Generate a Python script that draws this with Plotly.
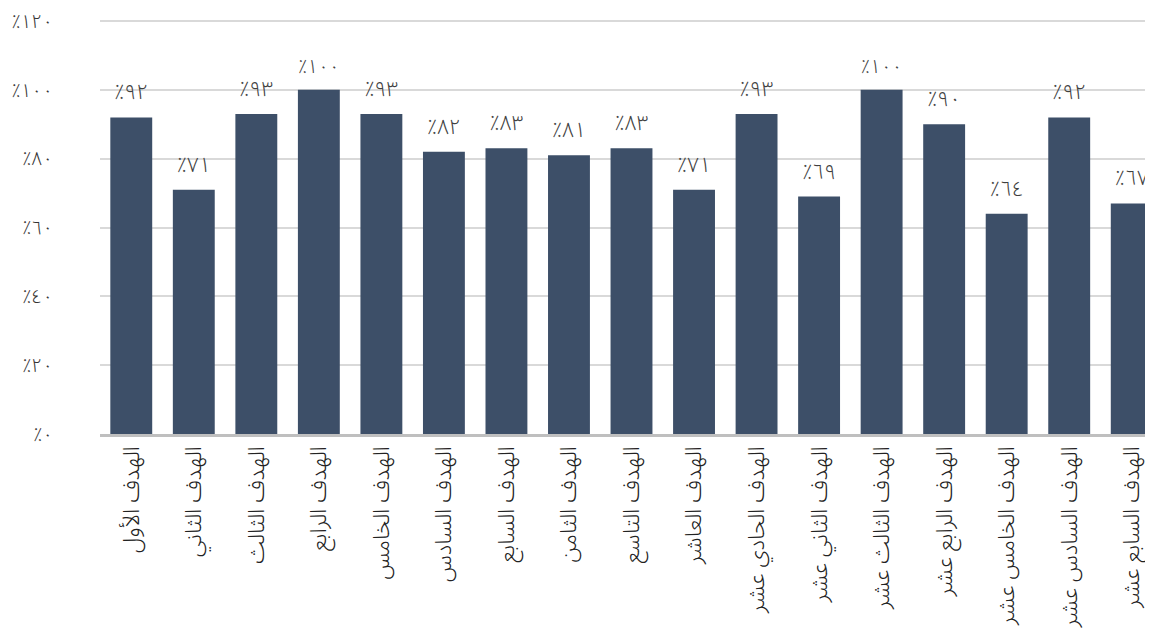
import plotly.graph_objects as go

# Goals and achievement percentages
goals = [
    "الهدف الأول", "الهدف الثاني", "الهدف الثالث", "الهدف الرابع",
    "الهدف الخامس", "الهدف السادس", "الهدف السابع", "الهدف الثامن",
    "الهدف التاسع", "الهدف العاشر", "الهدف الحادي عشر", "الهدف الثاني عشر",
    "الهدف الثالث عشر", "الهدف الرابع عشر", "الهدف الخامس عشر",
    "الهدف السادس عشر", "الهدف السابع عشر",
]
values = [92, 71, 93, 100, 93, 82, 83, 81, 83, 71, 93, 69, 100, 90, 64, 92, 67]
y_ticks = [0, 20, 40, 60, 80, 100, 120]

AR_DIGITS = str.maketrans("0123456789", "٠١٢٣٤٥٦٧٨٩")


def ar_pct(v):
    return "٪" + str(v).translate(AR_DIGITS)


BAR = "#3d4f68"
FONT = "Noto Sans Arabic, Noto Sans Arabic UI, DejaVu Sans, sans-serif"

fig = go.Figure()
fig.add_bar(
    x=goals, y=values,
    marker=dict(color=BAR, line=dict(width=0)),
    text=[ar_pct(v) for v in values],
    textposition="outside",
    textfont=dict(size=21, color="#404040", family=FONT, weight=300),
    cliponaxis=False,
)

# page body has an 8px margin, so the figure is shrunk to fit the window
fig.update_layout(
    width=1145, height=628,
    margin=dict(l=92, r=0, t=12, b=202, autoexpand=False),
    paper_bgcolor="white", plot_bgcolor="white",
    bargap=0.33,
    showlegend=False,
    font=dict(family=FONT, color="#333333"),
    xaxis=dict(
        range=[-0.5, 16.34],
        automargin=False,
        tickangle=-90,
        tickfont=dict(size=23, color="#222222", weight=300),
        showline=True, linecolor="#bfbfbf", linewidth=3,
        ticks="", showgrid=False,
    ),
    yaxis=dict(
        range=[0, 120.3],
        automargin=False,
        tickvals=y_ticks,
        ticktext=[ar_pct(v) for v in y_ticks],
        tickfont=dict(size=19, color="#333333", weight=300),
        gridcolor="#d9d9d9", gridwidth=1.5,
        zeroline=False,
        ticklabelstandoff=46,
        ticklabeloverflow="allow",
    ),
)

fig.write_html("out.html")
